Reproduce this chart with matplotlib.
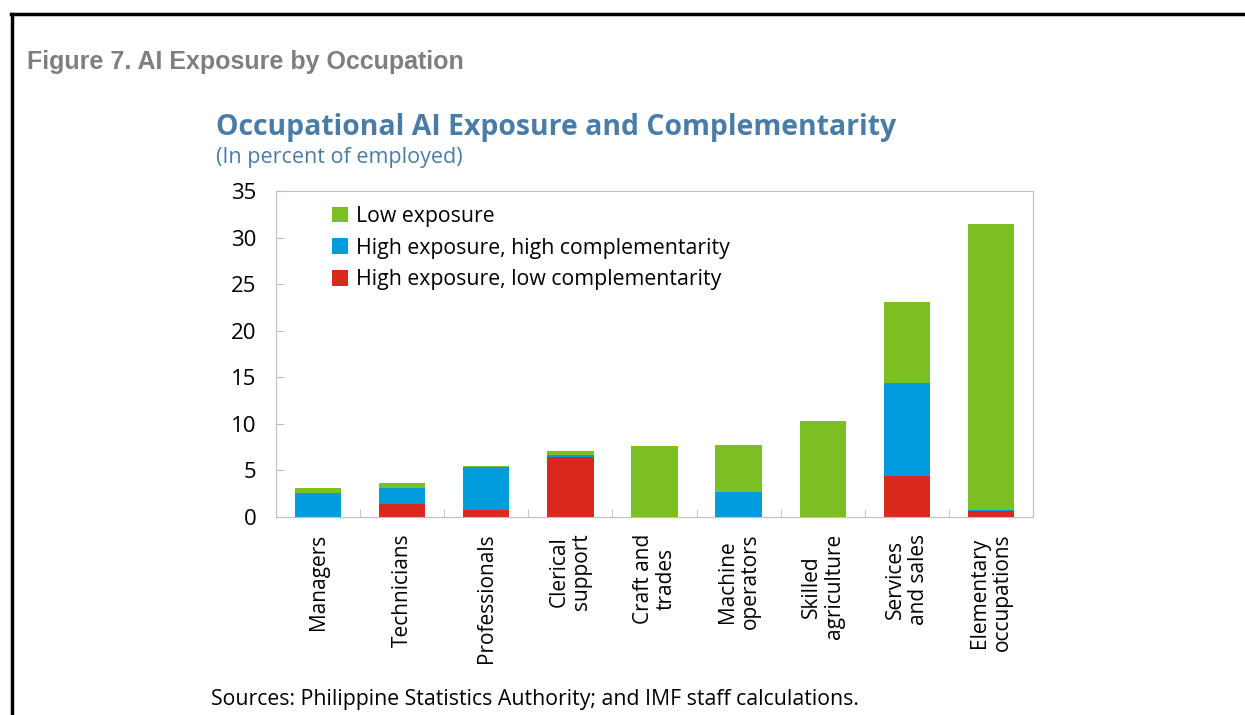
import numpy as np
import matplotlib.pyplot as plt

# Data (percent of employed)
occupations = ["Managers", "Technicians", "Professionals", "Clerical\nsupport",
               "Craft and\ntrades", "Machine\noperators", "Skilled\nagriculture",
               "Services\nand sales", "Elementary\noccupations"]
high_low = [0.0, 1.4, 0.8, 6.4, 0.0, 0.0, 0.0, 4.4, 0.6]
high_high = [2.6, 1.75, 4.55, 0.3, 0.0, 2.65, 0.0, 10.0, 0.15]
low_exp = [0.5, 0.5, 0.1, 0.4, 7.6, 5.1, 10.35, 8.7, 30.75]

c_green = "#7bbf22"
c_blue = "#009cdc"
c_red = "#d9291e"
title_col = "#4a7ca8"
font = ["Open Sans", "DejaVu Sans"]

fig = plt.figure(figsize=(12.45, 7.15), dpi=100)
ax = fig.add_axes([276/1245, 1-517/715, 757/1245, 326/715])

x = np.arange(len(occupations))
w = 0.55
hl = np.array(high_low)
hh = np.array(high_high)
le = np.array(low_exp)
b1 = ax.bar(x, hl, w, color=c_red, label="High exposure, low complementarity")
b2 = ax.bar(x, hh, w, bottom=hl, color=c_blue, label="High exposure, high complementarity")
b3 = ax.bar(x, le, w, bottom=hl+hh, color=c_green, label="Low exposure")

ax.set_xlim(-0.5, len(occupations)-0.5)
ax.set_ylim(0, 35)
ax.set_yticks(range(0, 36, 5))
ax.set_xticks(x)
ax.set_xticklabels(occupations, rotation=90, fontsize=15, family=font,
                   multialignment="center", linespacing=1.1)
ax.set_xticks(np.arange(0.5, len(occupations)-1, 1), minor=True)
ax.tick_params(axis="x", which="major", length=0, pad=12)
ax.tick_params(axis="x", which="minor", direction="in", length=6, color="#bfbfbf")
ax.tick_params(axis="y", direction="in", length=6, color="#bfbfbf", labelsize=16, pad=14)
for lab in ax.get_yticklabels():
    lab.set_family(font)
for s in ax.spines.values():
    s.set_color("#bfbfbf")

leg = ax.legend(handles=[b3, b2, b1], loc="upper left", bbox_to_anchor=(0.049, 1.013),
                frameon=False, prop={"family": font, "size": 15.3},
                handlelength=0.75, handleheight=0.75, handletextpad=0.35, labelspacing=0.5)

fig.text(27/1245, 1-62/715, "Figure 7. AI Exposure by Occupation", fontsize=18,
         fontweight="bold", color="#7f7f7f", family="Liberation Sans", va="center")
fig.text(216/1245, 1-127/715, "Occupational AI Exposure and Complementarity", fontsize=20.4,
         fontweight="bold", color=title_col, family=font, va="center")
fig.text(216/1245, 1-158/715, "(In percent of employed)", fontsize=15.5,
         color=title_col, family=font, va="center")
fig.text(211/1245, 1-699/715, "Sources: Philippine Statistics Authority; and IMF staff calculations.",
         fontsize=15.3, color="black", family=font, va="center")

# page border lines
fig.add_artist(plt.Line2D([11/1245, 1], [1-14/715, 1-14/715], color="black", lw=2.5))
fig.add_artist(plt.Line2D([12/1245, 12/1245], [0, 1-14/715], color="black", lw=2.5))

fig.savefig("out.png", dpi=100)
